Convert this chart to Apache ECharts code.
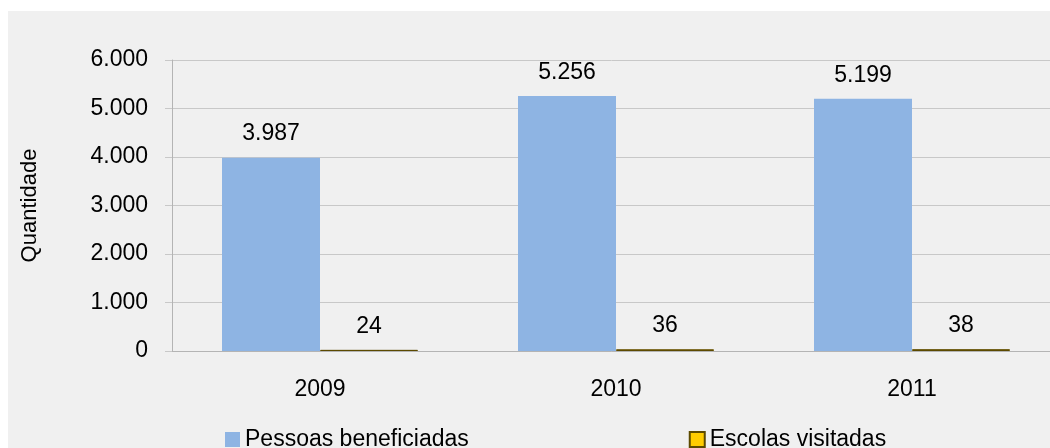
<!DOCTYPE html>
<html>
<head>
<meta charset="utf-8">
<script src="https://cdn.jsdelivr.net/npm/echarts@6/dist/echarts.min.js"></script>
<style>
  html, body { margin: 0; padding: 0; background: #fff; }
  #panel { position: absolute; left: 8px; top: 11px; width: 1042px; height: 437px; background: #f0f0f0; }
  #chart { width: 1042px; height: 437px; }
</style>
</head>
<body>
<div id="panel"><div id="chart"></div></div>
<script>
// values
const years = ["2009", "2010", "2011"];
const pessoas = [3987, 5256, 5199];
const escolas = [24, 36, 38];
const yTicks = { min: 0, max: 6000, interval: 1000 };

const fmt = v => String(v).replace(/\B(?=(\d{3})+(?!\d))/g, ".");
const font = "Arial, 'Liberation Sans', sans-serif";

const chart = echarts.init(document.getElementById("chart"));

const labelStyle = {
	show: true,
	position: "top",
	distance: 12,
	color: "#000",
	fontSize: 23,
	fontFamily: font,
	formatter: p => fmt(p.value),
};

chart.setOption({
	animation: false,
	// the plot runs past the right edge of the picture, as in the reference
	grid: { left: 164, top: 49, width: 888, height: 291, outerBoundsMode: "none" },
	legend: {
		left: 217,
		top: 417,
		padding: 0,
		itemGap: 220,
		itemWidth: 15,
		itemHeight: 15,
		icon: "rect",
		textStyle: { color: "#000", fontSize: 23, fontFamily: font },
		data: ["Pessoas beneficiadas", "Escolas visitadas"],
	},
	xAxis: {
		type: "category",
		data: years,
		axisLine: { lineStyle: { color: "#b4b4b4" } },
		axisTick: { length: 7, lineStyle: { color: "#b4b4b4" } },
		axisLabel: { color: "#000", fontSize: 23, fontFamily: font, margin: 27 },
	},
	yAxis: {
		type: "value",
		min: yTicks.min,
		max: yTicks.max,
		interval: yTicks.interval,
		name: "Quantidade",
		nameLocation: "middle",
		nameGap: 131,
		nameTextStyle: { color: "#000", fontSize: 22, fontFamily: font },
		axisLine: { show: true, lineStyle: { color: "#b4b4b4" } },
		axisTick: { show: true, length: 7, lineStyle: { color: "#c8c8c8" } },
		splitLine: { lineStyle: { color: "#c8c8c8" } },
		axisLabel: { color: "#000", fontSize: 23, fontFamily: font, margin: 24, formatter: fmt },
	},
	series: [
		{
			name: "Pessoas beneficiadas",
			type: "bar",
			data: pessoas,
			barWidth: 98,
			barGap: "0%",
			itemStyle: { color: "#8eb4e3" },
			label: labelStyle,
		},
		{
			name: "Escolas visitadas",
			type: "bar",
			data: escolas,
			barWidth: 98,
			barGap: "0%",
			itemStyle: { color: "#ffcc00", borderColor: "#5c4a00", borderWidth: 1 },
			label: labelStyle,
		},
	],
});
</script>
</body>
</html>
